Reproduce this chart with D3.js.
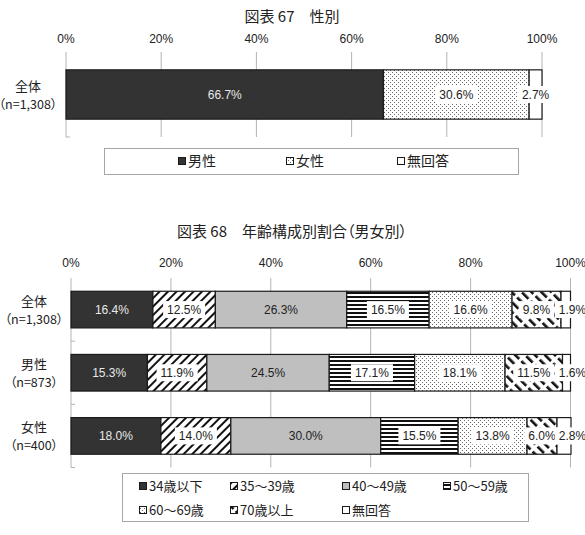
<!DOCTYPE html>
<html>
<head>
<meta charset="utf-8">
<script src="https://cdn.jsdelivr.net/npm/d3@7"></script>
<style>
body { margin: 0; background: #fff; }
text { font-family: "Noto Sans CJK JP", sans-serif; font-feature-settings: "palt"; fill: #222; }
text.num { font-family: "Liberation Sans Narrow", "Liberation Sans", sans-serif; font-feature-settings: normal; }
</style>
</head>
<body>
<div id="chart"></div>
<script>
// axis ticks (percent)
var ticks = [0, 20, 40, 60, 80, 100];

// 図表67 性別
var sexTitle = "図表 67　性別";
var sexKeys = ["男性", "女性", "無回答"];
var sexRows = ["全体"];
var sexN = ["（n=1,308）"];
var sexAll = [66.7, 30.6, 2.7];

// 図表68 年齢構成別割合
var ageTitle = "図表 68　年齢構成別割合（男女別）";
var ageKeys = ["34歳以下", "35〜39歳", "40〜49歳", "50〜59歳", "60〜69歳", "70歳以上", "無回答"];
var ageRows = ["全体", "男性", "女性"];
var ageN = ["（n=1,308）", "（n=873）", "（n=400）"];
var ageAll = [16.4, 12.5, 26.3, 16.5, 16.6, 9.8, 1.9];
var ageMale = [15.3, 11.9, 24.5, 17.1, 18.1, 11.5, 1.6];
var ageFemale = [18.0, 14.0, 30.0, 15.5, 13.8, 6.0, 2.8];

var svg = d3.select("#chart").append("svg")
    .attr("width", 585)
    .attr("height", 535);

var defs = svg.append("defs");

// fine stipple
var dots = defs.append("pattern").attr("id", "dots")
    .attr("width", 4).attr("height", 4)
    .attr("patternUnits", "userSpaceOnUse");
dots.append("rect").attr("width", 4).attr("height", 4).attr("fill", "#fff");
dots.append("rect").attr("width", 1).attr("height", 1).attr("fill", "#666");
dots.append("rect").attr("x", 2).attr("y", 2).attr("width", 1).attr("height", 1).attr("fill", "#666");

// "/" hatch
var slash = defs.append("pattern").attr("id", "slash")
    .attr("width", 6).attr("height", 6)
    .attr("patternUnits", "userSpaceOnUse")
    .attr("patternTransform", "rotate(45)");
slash.append("rect").attr("width", 6).attr("height", 6).attr("fill", "#fff");
slash.append("rect").attr("width", 2).attr("height", 6).attr("fill", "#111");

// horizontal stripes
var hl = defs.append("pattern").attr("id", "hlines")
    .attr("width", 4).attr("height", 4)
    .attr("patternUnits", "userSpaceOnUse");
hl.append("rect").attr("width", 4).attr("height", 4).attr("fill", "#fff");
hl.append("rect").attr("width", 4).attr("height", 2).attr("fill", "#111");

// "\" dashes
var back = defs.append("pattern").attr("id", "back")
    .attr("width", 7).attr("height", 12)
    .attr("patternUnits", "userSpaceOnUse")
    .attr("patternTransform", "rotate(-45)");
back.append("rect").attr("width", 7).attr("height", 12).attr("fill", "#fff");
back.append("rect").attr("width", 2.6).attr("height", 9).attr("fill", "#111");

var sexFills = ["#333", "url(#dots)", "#fff"];
var ageFills = ["#333", "url(#slash)", "#bfbfbf", "url(#hlines)", "url(#dots)", "url(#back)", "#fff"];

drawChart({
    title: sexTitle, titleY: 22,
    keys: sexKeys, fills: sexFills,
    rows: sexRows, nlabels: sexN, values: [sexAll],
    left: 66, right: 542, top: 52, bottom: 137, tickY: 43,
    labelX: 28, lastShift: 0,
    legend: { x: 104, y: 148, w: 414, h: 26, cols: [182, 290, 401], rowY: [161], size: 14 }
});

drawChart({
    title: ageTitle, titleY: 237,
    keys: ageKeys, fills: ageFills,
    rows: ageRows, nlabels: ageN, values: [ageAll, ageMale, ageFemale],
    left: 71, right: 570.5, top: 278, bottom: 467.5, tickY: 267,
    labelX: 34, lastShift: 1,
    legend: { x: 122, y: 473, w: 406, h: 48, cols: [143, 234, 346, 447], rowY: [486, 510], size: 13 }
});

function drawChart(o)
{
    var g = svg.append("g");

    g.append("text")
        .attr("x", 292)
        .attr("y", o.titleY)
        .attr("text-anchor", "middle")
        .style("font-size", "15px")
        .text(o.title);

    var x = d3.scaleLinear()
        .domain([0, 100])
        .range([o.left, o.right]);

    var y = d3.scaleBand()
        .domain(o.rows)
        .range([o.top, o.bottom])
        .paddingInner(0.42)
        .paddingOuter(0.21);

    // gridlines
    g.selectAll(".grid")
        .data(ticks)
        .enter()
        .append("line")
        .attr("x1", function(d) { return x(d); })
        .attr("x2", function(d) { return x(d); })
        .attr("y1", o.top)
        .attr("y2", o.bottom)
        .attr("stroke", "#b4b4b4")
        .attr("stroke-width", 1);

    g.selectAll(".tick")
        .data(ticks)
        .enter()
        .append("text")
        .attr("class", "num")
        .attr("x", function(d) { return x(d); })
        .attr("y", o.tickY)
        .attr("text-anchor", "middle")
        .style("font-size", "12px")
        .text(function(d) { return d + "%"; });

    // small category ticks at band edges
    var step = y.step();
    for (var k = 1; k <= o.rows.length; k++) {
        g.append("line")
            .attr("x1", o.left).attr("x2", o.left + 4)
            .attr("y1", o.top + step * k).attr("y2", o.top + step * k)
            .attr("stroke", "#b4b4b4");
    }

    // row labels
    o.rows.forEach(function(r, i) {
        var cy = y(r) + y.bandwidth() / 2;
        g.append("text")
            .attr("x", o.labelX).attr("y", cy - 4)
            .attr("text-anchor", "middle")
            .style("font-size", "13px")
            .text(r);
        g.append("text")
            .attr("x", o.labelX).attr("y", cy + 14)
            .attr("text-anchor", "middle")
            .style("font-size", "12.5px")
            .text(o.nlabels[i]);
    });

    // segments
    var segs = [];
    o.values.forEach(function(vals, i) {
        var acc = 0;
        vals.forEach(function(v, j) {
            segs.push({ row: o.rows[i], key: j, x0: acc, x1: acc + v, v: v });
            acc += v;
        });
    });

    g.selectAll(".seg")
        .data(segs)
        .enter()
        .append("rect")
        .attr("x", function(d) { return x(d.x0); })
        .attr("y", function(d) { return y(d.row); })
        .attr("width", function(d) { return x(d.x1) - x(d.x0); })
        .attr("height", y.bandwidth())
        .attr("fill", function(d) { return o.fills[d.key]; })
        .attr("stroke", "#1a1a1a")
        .attr("stroke-width", 1.2);

    // value labels
    segs.forEach(function(d) {
        var last = d.key == o.keys.length - 1;
        var cx = (x(d.x0) + x(d.x1)) / 2;
        if (last && o.lastShift) cx = o.right + 2;
        var cy = y(d.row) + y.bandwidth() / 2;
        var fill = o.fills[d.key];
        var dark = fill == "#333";
        var plain = dark || fill == "#bfbfbf";
        var box = g.append("rect");
        var t = g.append("text")
            .attr("class", "num")
            .attr("x", cx)
            .attr("y", cy + 4)
            .attr("text-anchor", "middle")
            .style("font-size", "12px")
            .style("fill", dark ? "#e8e8e8" : "#222")
            .text(d.v.toFixed(1) + "%");
        if (!plain) {
            var w = t.node().getComputedTextLength();
            box.attr("x", cx - w / 2 - 4)
                .attr("y", cy - 8.5)
                .attr("width", w + 8)
                .attr("height", 17)
                .attr("fill", "#fff");
        } else {
            box.remove();
        }
    });

    // legend
    var L = o.legend;
    g.append("rect")
        .attr("x", L.x + 0.5).attr("y", L.y + 0.5)
        .attr("width", L.w).attr("height", L.h)
        .attr("fill", "#fff")
        .attr("stroke", "#a6a6a6");

    o.keys.forEach(function(k, i) {
        var col = i % L.cols.length;
        var row = Math.floor(i / L.cols.length);
        var lx = L.cols[col], ly = L.rowY[row];
        g.append("rect")
            .attr("x", lx - 3.5).attr("y", ly - 3.5)
            .attr("width", 7).attr("height", 7)
            .attr("fill", o.fills[i])
            .attr("stroke", "#1a1a1a")
            .attr("stroke-width", 1);
        g.append("text")
            .attr("x", lx + 6)
            .attr("y", ly + L.size * 0.36)
            .style("font-size", L.size + "px")
            .text(k);
    });
}
</script>
</body>
</html>
